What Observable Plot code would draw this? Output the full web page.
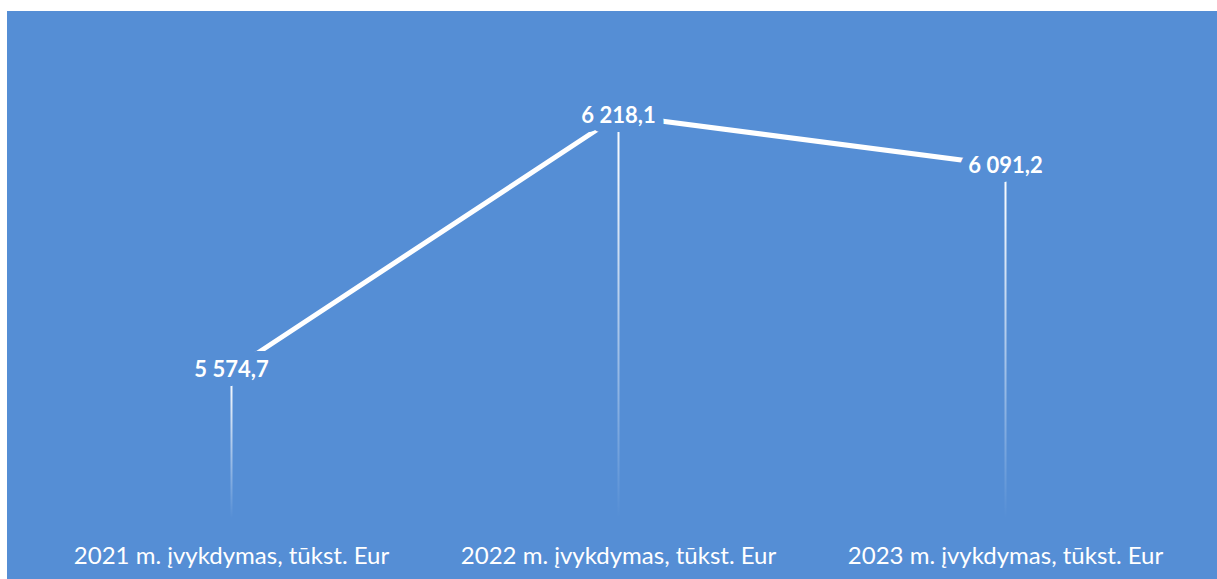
<!DOCTYPE html>
<html><head><meta charset="utf-8">
<script src="https://cdn.jsdelivr.net/npm/d3@7"></script>
<script src="https://cdn.jsdelivr.net/npm/@observablehq/plot@0.6"></script>
<style>
html,body{margin:0;padding:0;background:#fff;}
#wrap{position:absolute;left:7px;top:11px;width:1210px;height:568px;background:#558ED5;overflow:hidden;}
</style></head><body><div id="wrap"></div>
<script>
const categories = ["2021 m. įvykdymas, tūkst. Eur", "2022 m. įvykdymas, tūkst. Eur", "2023 m. įvykdymas, tūkst. Eur"];
const values = [5574.7, 6218.1, 6091.2];
const valueLabels = ["5 574,7", "6 218,1", "6 091,2"];

const data = categories.map((c, i) => ({category: c, value: values[i], label: valueLabels[i], id: i}));
const bg = "#558ED5";
const dropBase = 5200;

const plot = Plot.plot({
  width: 1210, height: 568,
  marginTop: 32, marginBottom: 61, marginLeft: 29, marginRight: 18,
  style: {background: "transparent", fontFamily: "Lato, 'Open Sans', sans-serif", color: "white", overflow: "visible"},
  x: {type: "point", domain: categories, padding: 0.5, align: 0.5, label: null},
  y: {domain: [5200, 6400], axis: null},
  marks: [
    ...data.map(d => Plot.ruleX([d], {x: "category", y1: "value", y2: dropBase, stroke: `url(#drop${d.id})`, strokeWidth: 2})),
    Plot.line(data, {x: "category", y: "value", stroke: "white", strokeWidth: 5}),
    Plot.text(data, {x: "category", y: "value", text: "label", fill: "white", stroke: bg, strokeWidth: 18,
      paintOrder: "stroke", strokeLinejoin: "round", fontWeight: "bold", fontSize: 22}),
    Plot.axisX({tickSize: 0, tickPadding: 28, fontSize: 24, label: null})
  ]
});

const ys = plot.scale("y");
const NS = "http://www.w3.org/2000/svg";
const defs = document.createElementNS(NS, "defs");
data.forEach(d => {
  const g = document.createElementNS(NS, "linearGradient");
  g.setAttribute("id", `drop${d.id}`);
  g.setAttribute("gradientUnits", "userSpaceOnUse");
  g.setAttribute("x1", 0); g.setAttribute("x2", 0);
  g.setAttribute("y1", ys.apply(d.value));
  g.setAttribute("y2", ys.apply(dropBase));
  [[0, 1], [0.15, 0.9], [1, 0]].forEach(([o, a]) => {
    const s = document.createElementNS(NS, "stop");
    s.setAttribute("offset", o);
    s.setAttribute("stop-color", "white");
    s.setAttribute("stop-opacity", a);
    g.appendChild(s);
  });
  defs.appendChild(g);
});
plot.insertBefore(defs, plot.firstChild);
document.getElementById("wrap").appendChild(plot);
</script>
</body></html>
